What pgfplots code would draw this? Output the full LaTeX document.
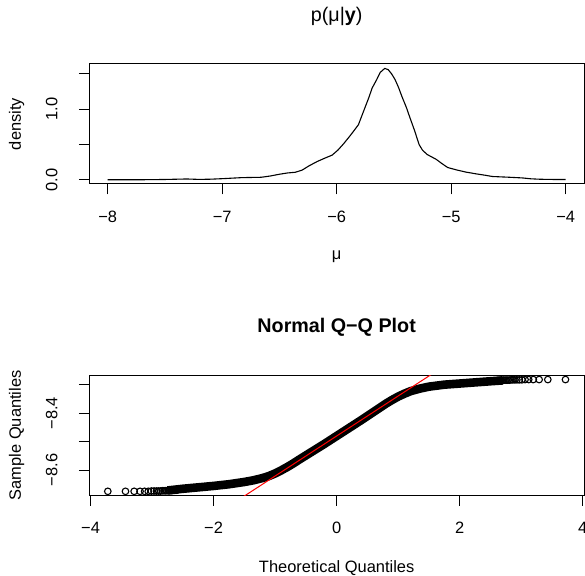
\documentclass[border=0pt]{standalone}
\usepackage{pgfplots}
\pgfplotsset{compat=1.18}
\usepackage{fontspec}
\setmainfont{Liberation Sans}
\begin{document}
\fontsize{16.5}{19.8}\selectfont
\begin{tikzpicture}
\useasboundingbox (0,0) rectangle (585bp,576bp);
\clip (0,0) rectangle (585bp,576bp);
\pgfplotsset{
  rstyle/.style={
    scale only axis,
    width=494.7bp, height=120bp,
    axis line style={black, line width=1bp},
    tick style={black, line width=1bp},
    tick align=outside,
    major tick length=10.5bp,
    xtick pos=left, ytick pos=left,
    xticklabel style={anchor=center, font=\fontsize{16.5}{19.8}\selectfont},
    yticklabel style={rotate=90, anchor=center, font=\fontsize{16.5}{19.8}\selectfont},
    xticklabel shift=22.2bp,
    yticklabel shift=27.1bp,
    label style={font=\fontsize{16.5}{19.8}\selectfont},
    xlabel style={at={(axis description cs:0.5,-0.6083)}, anchor=center},
    ylabel style={at={(axis description cs:-0.1468,0.5)}, anchor=center},
  }
}
% ---------- top: posterior density ----------
\begin{axis}[rstyle,
  at={(89.3bp,392bp)}, anchor=south west,
  xmin=-8.16, xmax=-3.84, ymin=-0.058, ymax=1.640,
  xtick={-8,-7,-6,-5,-4},
  xticklabels={−8,−7,−6,−5,−4},
  ytick={0,0.5,1,1.5},
  yticklabels={0.0,,1.0,},
  xlabel={μ}, ylabel={density},
  title={p(μ|\textbf{y})},
  title style={at={(axis description cs:0.5,1.344)}, anchor=center, font=\fontsize{19.8}{23}\selectfont},
]
\addplot[black, line width=1.1bp, line join=round] coordinates {
(-8.00,0.002) (-7.80,0.002) (-7.64,0.003) (-7.50,0.006) (-7.31,0.013)
(-7.20,0.007) (-7.10,0.010) (-6.99,0.018) (-6.83,0.032) (-6.66,0.037)
(-6.58,0.055) (-6.50,0.080) (-6.43,0.098) (-6.36,0.108) (-6.30,0.14)
(-6.24,0.20) (-6.17,0.26) (-6.10,0.31) (-6.04,0.35) (-5.99,0.42)
(-5.94,0.51) (-5.88,0.63) (-5.81,0.78) (-5.77,0.95) (-5.72,1.16)
(-5.69,1.30) (-5.65,1.42) (-5.62,1.52) (-5.58,1.578) (-5.55,1.56)
(-5.52,1.50) (-5.49,1.42) (-5.46,1.31) (-5.43,1.18) (-5.39,1.02)
(-5.36,0.88) (-5.32,0.70) (-5.28,0.50) (-5.25,0.42) (-5.21,0.36)
(-5.13,0.29) (-5.08,0.23) (-5.03,0.175) (-4.95,0.14) (-4.87,0.11)
(-4.78,0.085) (-4.70,0.065) (-4.64,0.048) (-4.50,0.038) (-4.38,0.028)
(-4.30,0.015) (-4.22,0.009) (-4.10,0.006) (-4.00,0.005)
};
\end{axis}
% ---------- bottom: normal QQ plot ----------
\begin{axis}[rstyle,
  at={(89.3bp,80.7bp)}, anchor=south west,
  xmin=-4.02, xmax=4.02, ymin=-8.689, ymax=-8.266,
  xtick={-4,-2,0,2,4},
  xticklabels={−4,−2,0,2,4},
  ytick={-8.6,-8.5,-8.4,-8.3},
  yticklabels={−8.6,,−8.4,},
  xlabel={Theoretical Quantiles}, ylabel={Sample Quantiles},
  title={\bfseries Normal Q−Q Plot},
  title style={at={(axis description cs:0.5,1.35)}, anchor=center, font=\fontsize{19.8}{23}\selectfont},
]
% dense central band of overlapping points
\addplot[black, line width=8.6bp, line join=round, line cap=butt] coordinates {
(-2.75,-8.672) (-2.5,-8.666) (-2.25,-8.661) (-2.0,-8.656) (-1.75,-8.650)
(-1.5,-8.642) (-1.35,-8.636) (-1.2,-8.628) (-1.1,-8.621) (-1.0,-8.612)
(-0.9,-8.601) (-0.8,-8.589) (-0.7,-8.576) (-0.6,-8.562) (-0.4,-8.535)
(-0.2,-8.508) (0.0,-8.480) (0.2,-8.452) (0.4,-8.424) (0.6,-8.395)
(0.8,-8.366) (0.9,-8.353) (1.0,-8.341) (1.1,-8.331) (1.2,-8.322)
(1.35,-8.313) (1.5,-8.306) (1.75,-8.299) (2.0,-8.295) (2.25,-8.291)
(2.5,-8.287) (2.70,-8.284)
};
% individual points in the tails
\addplot[only marks, mark=o, mark size=3.3bp, mark options={line width=1.1bp, black}] coordinates {
(-3.719,-8.675) (-3.432,-8.675) (-3.291,-8.675) (-3.195,-8.675) (-3.121,-8.675)
(-3.062,-8.675) (-3.011,-8.674) (-2.968,-8.674) (-2.929,-8.674) (-2.894,-8.674)
(-2.863,-8.674) (-2.834,-8.673) (-2.807,-8.673) (-2.782,-8.673) (-2.759,-8.673)
(-2.737,-8.672) (-2.716,-8.672) (-2.696,-8.672) (-2.677,-8.672) (-2.659,-8.671)
(-2.642,-8.671) (-2.625,-8.671) (-2.609,-8.671) (-2.594,-8.670)
(3.719,-8.281) (3.432,-8.281) (3.291,-8.281) (3.195,-8.281) (3.121,-8.281)
(3.062,-8.281) (3.011,-8.282) (2.968,-8.282) (2.929,-8.282) (2.894,-8.282)
(2.863,-8.282) (2.834,-8.282) (2.807,-8.283) (2.782,-8.283) (2.759,-8.283)
(2.737,-8.283) (2.716,-8.283) (2.696,-8.284) (2.677,-8.284) (2.659,-8.284)
(2.642,-8.284) (2.625,-8.285) (2.609,-8.285) (2.594,-8.285)
};
% qqline
\addplot[red, line width=1bp] coordinates {(-4.02,-9.047) (4.02,-7.913)};
\end{axis}
\end{tikzpicture}
\end{document}
